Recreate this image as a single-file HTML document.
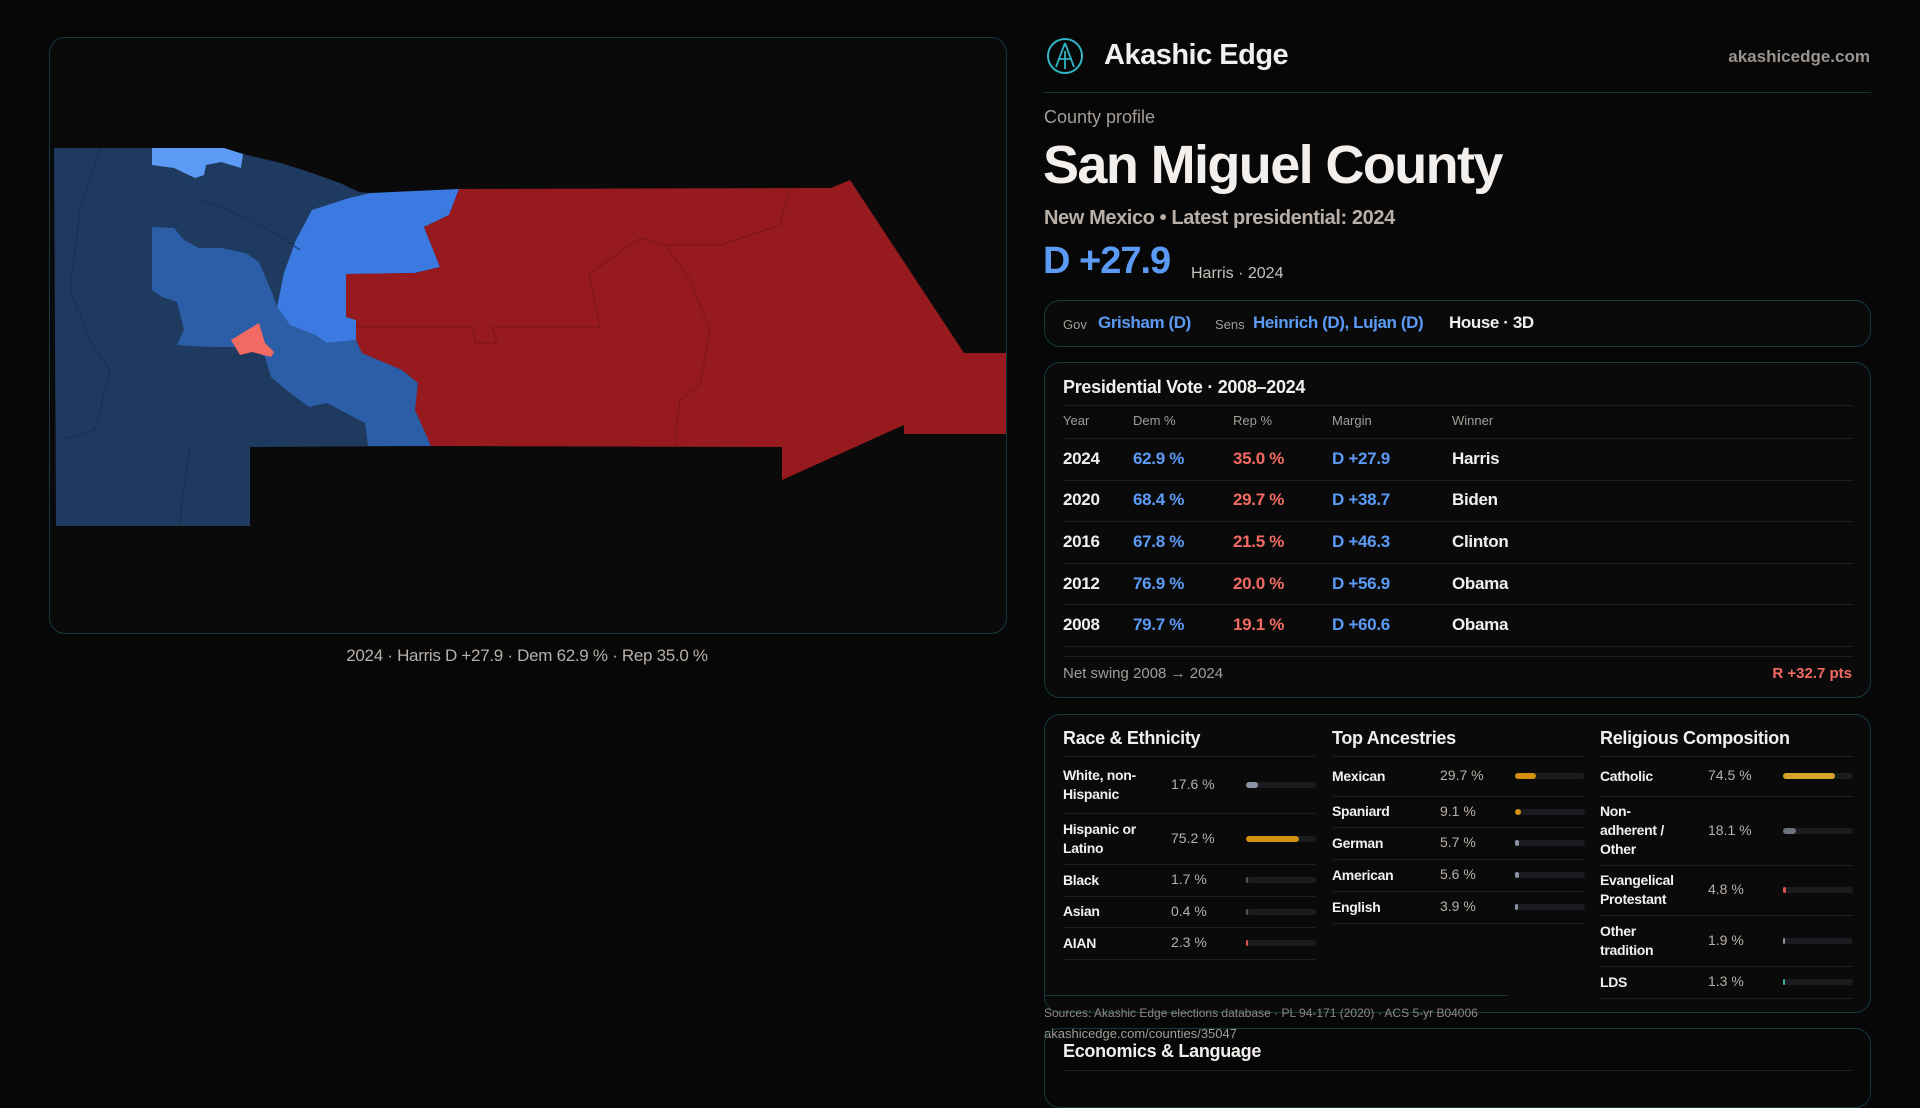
<!DOCTYPE html>
<html><head><meta charset="utf-8">
<style>
*{margin:0;padding:0;box-sizing:border-box}
body{width:1920px;height:1080px;background:#070708;overflow:hidden;font-family:"Liberation Sans",sans-serif;color:#f2efec;position:relative}
.abs{position:absolute;white-space:nowrap}
.panel{position:absolute;border:1px solid #123a40;border-radius:16px;background:#0a0a0b}
.line{position:absolute;height:1px;background:#1c1e20}
.blue{color:#5b9bf5}.red{color:#f26b63}.muted{color:#a39d97}
</style></head><body>
<div class="panel" style="left:49px;top:37px;width:958px;height:597px;">
<svg width="958" height="597" style="position:absolute;left:-1px;top:-1px">
<g transform="translate(-49,-37)">
<polygon fill="#1e3a5f" points="54,148 152,148 224,148 243,154 281,163 309,172 340,183 359,192 371,193 431,446 250,447 250,526 56,526"/>
<polygon fill="#5b9bf5" points="152,148 224,148 243,154 241,168 221,162 206,165 204,175 195,178 174,168 152,165"/>
<polygon fill="#3b7ae0" points="371,193 459,189 449,215 424,227 440,267 415,273 346,274 346,317 356,320 356,340 327,343 315,335 290,325 277,307 284,273 296,240 312,210 349,198"/>
<polygon fill="#2c5ea8" points="152,227 174,228 184,240 199,248 221,248 246,253 259,262 271,290 277,307 290,325 315,335 327,343 356,340 362,353 402,370 418,383 415,410 424,430 431,446 368,446 365,423 346,413 327,403 309,407 290,393 271,377 265,357 252,347 209,347 177,345 184,330 177,302 162,297 152,290"/>
<polygon fill="#971b1e" points="459,189 831,188 850,180 964,353 1006,353 1006,434 904,434 904,425 782,480 782,447 431,446 424,430 415,410 418,383 402,370 362,353 356,340 356,320 346,317 346,274 415,273 440,267 424,227 449,215"/>
<polygon fill="#f26b63" points="259,323 265,343 274,352 271,357 252,352 240,355 231,340"/>
<g fill="none" stroke="#7a1518" stroke-width="1">
<polyline points="640,238 589,274 600,327 492,327 497,343 475,343 473,327 356,327"/>
<polyline points="790,188 780,225 720,245 665,245 640,238"/>
<polyline points="665,245 690,280 710,330 700,385 680,400 676,430 675,446"/>
</g>
<g fill="none" stroke="#17304f" stroke-width="1">
<polyline points="100,148 80,210 70,290 90,340 110,370 95,430 60,440"/>
<polyline points="190,447 182,500 180,526"/>
<polyline points="200,200 240,215 270,230 300,250"/>
</g>
</g></svg>
</div>
<div class="abs muted" style="left:0;width:1054px;text-align:center;top:646px;font-size:17px;color:#b8b0a8;letter-spacing:-0.3px">2024 · Harris D +27.9 · Dem 62.9 % · Rep 35.0 %</div>

<svg class="abs" style="left:1046px;top:37px" width="38" height="38"><circle cx="19" cy="19" r="17" fill="none" stroke="#2fb5c4" stroke-width="2"/><path d="M19 6 L10 30 M19 6 L28 30 M12 22 L26 22 M19 14 L19 32" stroke="#2fb5c4" stroke-width="1.8" fill="none"/></svg>
<div class="abs" style="left:1104px;top:39px;font-size:29px;font-weight:bold;color:#f2efec;letter-spacing:-0.5px">Akashic Edge</div>
<div class="abs muted" style="right:50px;top:47px;font-size:17px;font-weight:bold;color:#9b948e">akashicedge.com</div>
<div class="line" style="left:1043px;top:92px;width:828px;background:#13343a"></div>
<div class="abs muted" style="left:1044px;top:107px;font-size:18px">County profile</div>
<div class="abs" style="left:1043px;top:134px;font-size:54px;font-weight:bold;letter-spacing:-1.6px">San Miguel County</div>
<div class="abs" style="left:1044px;top:207px;font-size:20px;font-weight:bold;color:#b8b0a8;letter-spacing:-0.4px">New Mexico • Latest presidential: 2024</div>
<div class="abs blue" style="left:1043px;top:240px;font-size:38px;font-weight:bold;letter-spacing:-1px">D +27.9</div>
<div class="abs" style="left:1191px;top:265px;font-size:16px;color:#c9c2bb">Harris · 2024</div>

<div class="panel" style="left:1044px;top:300px;width:827px;height:47px"></div>
<div class="abs muted" style="left:1063px;top:317px;font-size:13px">Gov</div>
<div class="abs blue" style="left:1098px;top:313px;font-size:17px;font-weight:bold;letter-spacing:-0.4px">Grisham (D)</div>
<div class="abs muted" style="left:1215px;top:317px;font-size:13px">Sens</div>
<div class="abs blue" style="left:1253px;top:313px;font-size:17px;font-weight:bold;letter-spacing:-0.4px">Heinrich (D), Lujan (D)</div>
<div class="abs" style="left:1449px;top:313px;font-size:17px;font-weight:bold;letter-spacing:-0.4px">House · 3D</div>

<div class="panel" style="left:1044px;top:362px;width:827px;height:336px"></div>
<div class="abs" style="left:1063px;top:377px;font-size:18px;font-weight:bold;letter-spacing:-0.3px">Presidential Vote · 2008–2024</div>
<div class="line" style="left:1063px;top:405px;width:790px"></div>
<div class="abs muted" style="left:1063px;top:413px;font-size:13px">Year</div>
<div class="abs muted" style="left:1133px;top:413px;font-size:13px">Dem %</div>
<div class="abs muted" style="left:1233px;top:413px;font-size:13px">Rep %</div>
<div class="abs muted" style="left:1332px;top:413px;font-size:13px">Margin</div>
<div class="abs muted" style="left:1452px;top:413px;font-size:13px">Winner</div>
<div class="line" style="left:1063px;top:438px;width:790px"></div>
<div id="voteRows"></div>
<div class="line" style="left:1063px;top:656px;width:790px"></div>
<div class="abs muted" style="left:1063px;top:665px;font-size:15px">Net swing 2008 → 2024</div>
<div class="abs red" style="right:68px;top:665px;font-size:15px;font-weight:bold">R +32.7 pts</div>

<div class="panel" style="left:1044px;top:714px;width:827px;height:299px"></div>
<div id="demo"></div>
<div class="line" style="left:1044px;top:995px;width:463px;background:#13343a"></div>
<div class="abs muted" style="left:1044px;top:1006px;font-size:12px;color:#8f8983">Sources: Akashic Edge elections database · PL 94-171 (2020) · ACS 5-yr B04006</div>
<div class="abs muted" style="left:1044px;top:1026px;font-size:13px;color:#a39d97">akashicedge.com/counties/35047</div>
<div class="panel" style="left:1044px;top:1028px;width:827px;height:80px;background:transparent"></div>
<div class="abs" style="left:1063px;top:1041px;font-size:18px;font-weight:bold;letter-spacing:-0.3px">Economics &amp; Language</div>
<div class="line" style="left:1063px;top:1070px;width:790px"></div>

<script>
const years=["2024","2020","2016","2012","2008"];
const demPct=[62.9,68.4,67.8,76.9,79.7];
const repPct=[35.0,29.7,21.5,20.0,19.1];
const winners=["Harris","Biden","Clinton","Obama","Obama"];
const raceLabels=["White, non-Hispanic","Hispanic or Latino","Black","Asian","AIAN"];
const raceValues=[17.6,75.2,1.7,0.4,2.3];
const ancLabels=["Mexican","Spaniard","German","American","English"];
const ancValues=[29.7,9.1,5.7,5.6,3.9];
const relLabels=["Catholic","Non-adherent / Other","Evangelical Protestant","Other tradition","LDS"];
const relValues=[74.5,18.1,4.8,1.9,1.3];

const vr=document.getElementById('voteRows');
const rowTop=438,rowH=41.6;
years.forEach((y,i)=>{
  const cy=rowTop+rowH*(i+0.5);
  const m=demPct[i]-repPct[i];
  const cells=[[y,1063,'#f2efec','vote-year'],[demPct[i].toFixed(1)+' %',1133,'#5b9bf5','vote-dem'],[repPct[i].toFixed(1)+' %',1233,'#f26b63','vote-rep'],[(m>=0?'D +':'R +')+Math.abs(m).toFixed(1),1332,m>=0?'#5b9bf5':'#f26b63','vote-margin'],[winners[i],1452,'#f2efec','vote-winner']];
  cells.forEach(c=>{
    const d=document.createElement('div');
    d.className='abs';
    d.style.cssText=`left:${c[1]}px;top:${cy-10}px;font-size:17px;font-weight:bold;letter-spacing:-0.3px;color:${c[2]}`;
    d.textContent=c[0];
    
    
    vr.appendChild(d);
  });
  const l=document.createElement('div');
  l.className='line';
  l.style.cssText=`left:1063px;top:${rowTop+rowH*(i+1)}px;width:790px`;
  
  
  vr.appendChild(l);
});

const demo=document.getElementById('demo');
function column(title,x,labels,values,heights,colors,key,lw){
  const t=document.createElement('div');
  t.className='abs';
  t.style.cssText=`left:${x}px;top:728px;font-size:18px;font-weight:bold;letter-spacing:-0.3px`;
  t.textContent=title;
  
  
  demo.appendChild(t);
  let y=756;
  const add=(top)=>{const l=document.createElement('div');l.className='line';l.style.cssText=`left:${x}px;top:${top}px;width:253px`;
    
    
    demo.appendChild(l);};
  add(y);
  labels.forEach((lab,i)=>{
    const h=heights[i];const cy=y+h/2;
    const a=document.createElement('div');
    a.className='abs';
    const nl=h>60?3:(h>45?2:1);
    a.style.cssText=`left:${x}px;top:${cy-nl*9.5}px;font-size:14px;font-weight:bold;line-height:19px;white-space:normal;letter-spacing:-0.3px;width:${lw}px`;
    a.textContent=lab;
    
    
    demo.appendChild(a);
    const v=document.createElement('div');
    v.className='abs muted';
    v.style.cssText=`left:${x+108}px;top:${cy-9}px;font-size:14px;color:#b8b0a8`;
    v.textContent=values[i].toFixed(1)+' %';
    
    
    demo.appendChild(v);
    const tr=document.createElement('div');
    tr.className='abs';
    tr.style.cssText=`left:${x+183}px;top:${cy-3}px;width:70px;height:6px;border-radius:3px;background:#1b1c1f`;
    
    
    demo.appendChild(tr);
    const b=document.createElement('div');
    b.className='abs';
    b.style.cssText=`left:${x+183}px;top:${cy-3}px;width:${Math.max(2,70*values[i]/100)}px;height:6px;border-radius:3px;background:${colors[i]}`;
    
    
    demo.appendChild(b);
    y+=h;add(y);
  });
}
column('Race & Ethnicity',1063,raceLabels,raceValues,[57,51,32,31,32],['#8a93a6','#d4900f','#555a63','#555a63','#d9534f'],'race',92);
column('Top Ancestries',1332,ancLabels,ancValues,[40,31,32,32,32],['#d4900f','#d4900f','#8a93a6','#8a93a6','#8a93a6'],'ancestry',100);
column('Religious Composition',1600,relLabels,relValues,[40,69,50,51,32],['#d4a52a','#6a707c','#d9534f','#8a93a6','#2fb5a4'],'religion',80);
</script>
</body></html>
